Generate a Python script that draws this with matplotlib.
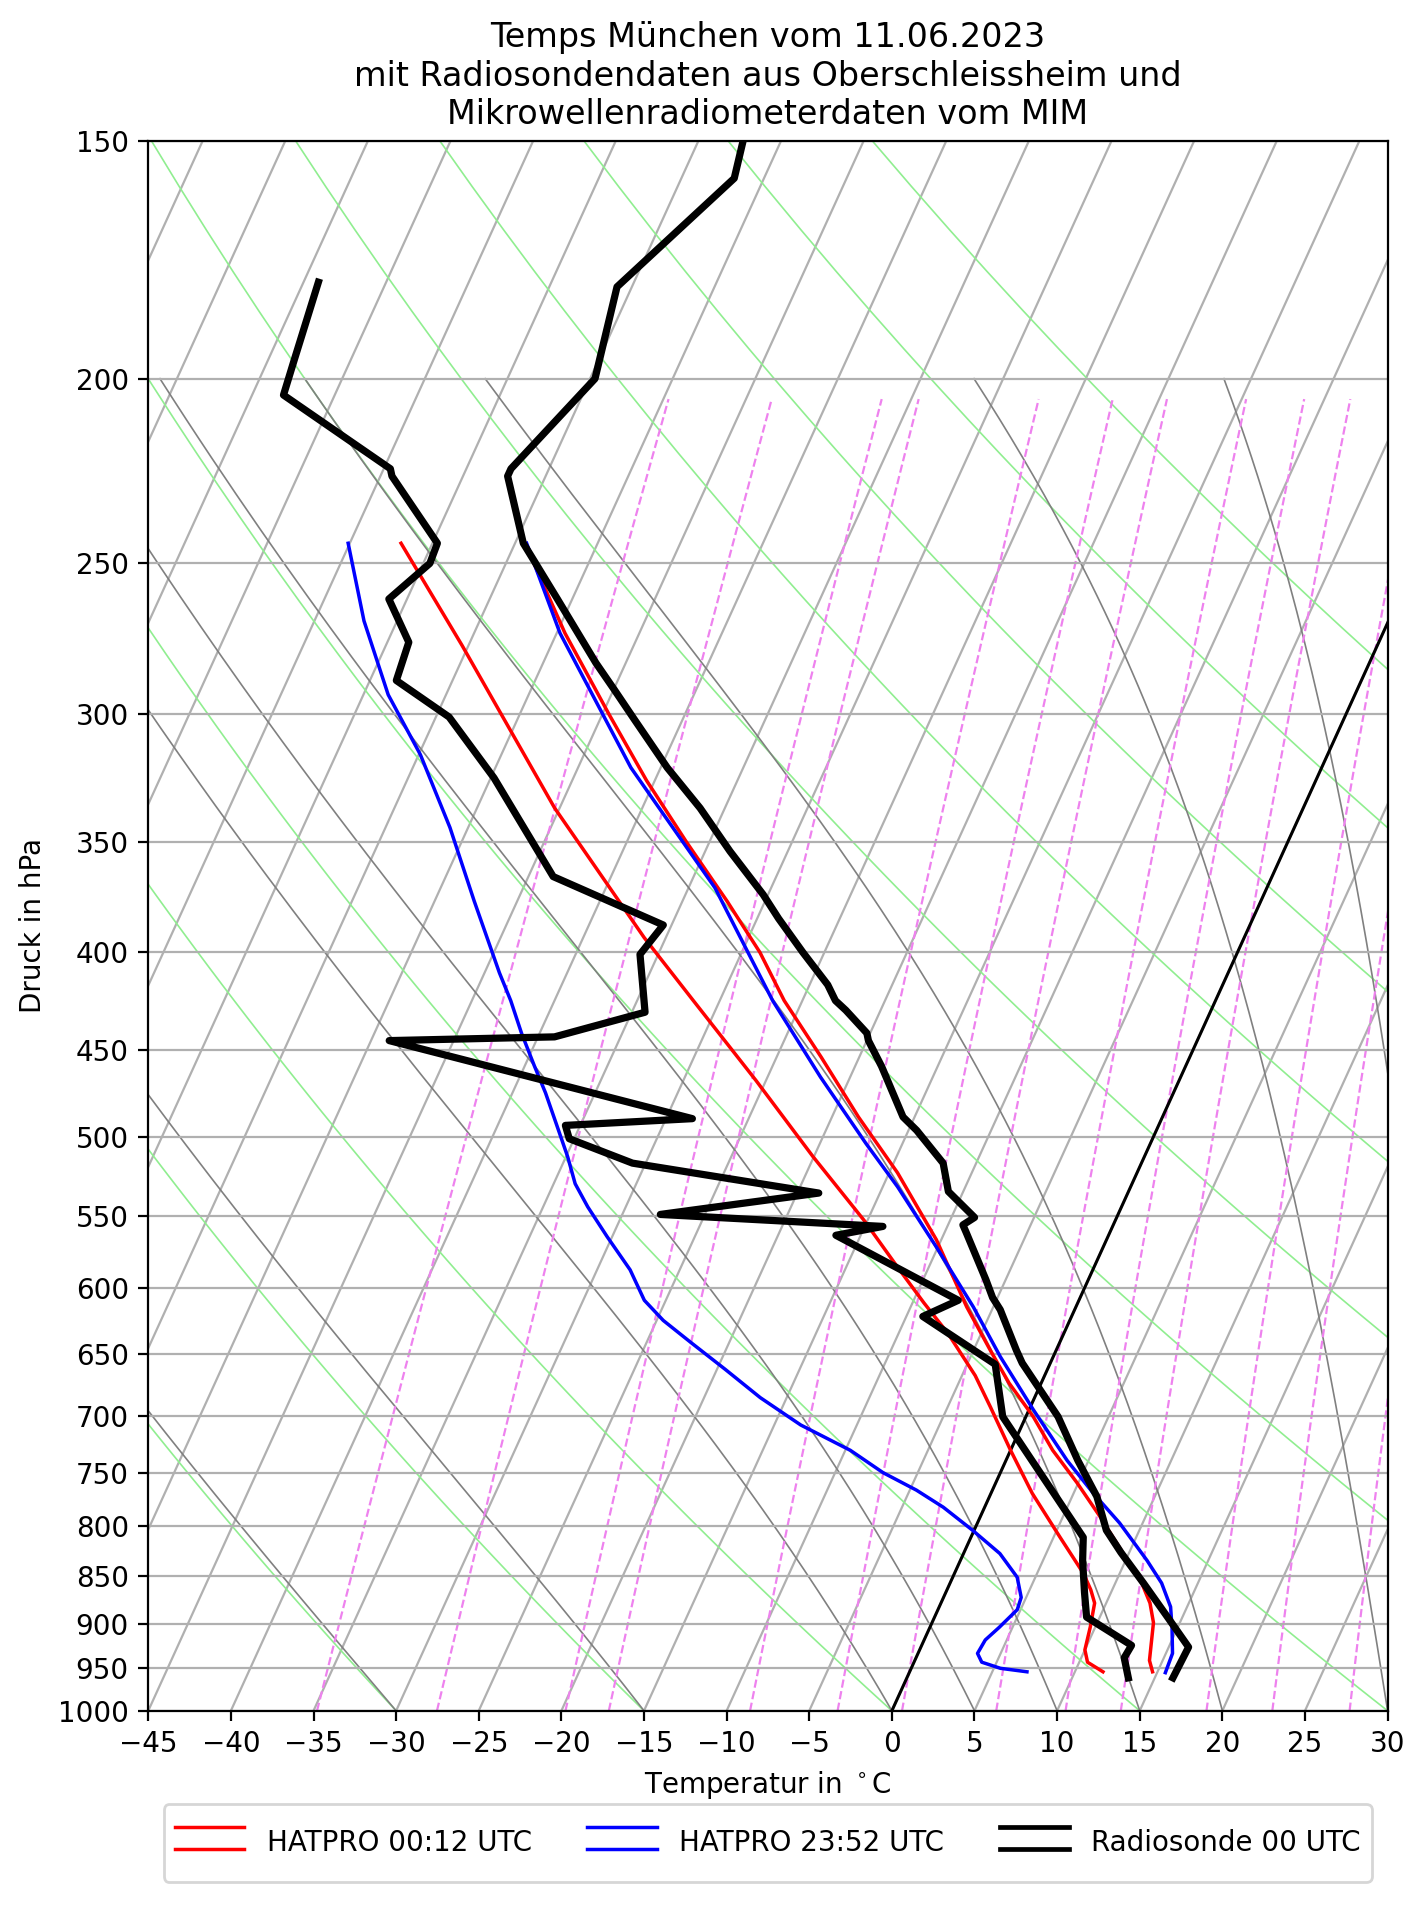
import numpy as np
import matplotlib
matplotlib.use('Agg')
import matplotlib.pyplot as plt
import matplotlib.transforms as transforms
from matplotlib.lines import Line2D
from matplotlib.ticker import FixedLocator, NullLocator, ScalarFormatter

# Radiosonde 00 UTC (Oberschleissheim)
sonde_p_T = [961, 926, 893, 857, 826, 804, 772, 739, 701, 657, 647, 616, 607, 594,
             561, 556, 551, 548, 534, 516, 496, 488, 459, 445, 441, 429, 424, 416,
             400, 384, 373, 354, 336, 320, 302, 291, 282, 261, 250, 244, 225, 223,
             200, 179, 157, 150]
sonde_T = [16.1, 16.2, 14.1, 11.7, 9.5, 8.0, 6.5, 4.35, 1.95, -1.7, -2.4, -4.5, -5.3, -6.2,
           -8.7, -9.1, -8.6, -9.0, -10.9, -12.0, -14.5, -15.7, -18.4, -19.9, -20.2, -22.1, -23.0, -23.9,
           -26.3, -28.7, -30.3, -33.5, -36.5, -39.6, -42.9, -45.0, -46.8, -50.9, -53.2, -54.5, -57.3, -57.3,
           -54.7, -55.9, -51.8, -52.3]
sonde_p_Td = [961, 938, 924, 893, 867, 834, 811, 701, 658, 621, 609, 563, 557, 549,
              535, 516, 501, 493, 489, 445, 443, 430, 401, 387, 365, 324, 301, 288,
              275, 261, 250, 244, 225, 223, 204, 196, 178]
sonde_Td = [13.4, 12.6, 12.7, 9.2, 8.4, 7.4, 6.8, -1.4, -3.3, -9.0, -7.3, -16.5, -13.9, -27.7,
            -18.7, -30.8, -35.3, -35.9, -28.4, -48.9, -39.0, -34.2, -36.1, -35.5, -43.5, -49.8, -54.2, -58.4,
            -58.7, -61.1, -59.6, -59.7, -64.3, -64.6, -73.1, -73.4, -74.1]

# HATPRO 00:12 UTC
hat1_p_T = [954, 941, 899, 878, 857, 791, 759, 730, 701, 673, 648, 614, 566, 522,
            488, 454, 424, 400, 376, 350, 325, 300, 272, 244]
hat1_T = [14.7, 14.2, 13.4, 12.65, 11.6, 7.25, 4.9, 2.55, 0.45, -1.95, -3.9, -6.6, -10.3, -14.5,
          -18.4, -22.3, -26.1, -28.9, -32.3, -36.4, -40.5, -44.6, -49.5, -54.4]
hat1_p_Td = [954, 943, 929, 904, 878, 864, 847, 811, 769, 730, 693, 667, 634, 611,
             585, 553, 512, 467, 424, 393, 336, 276, 244]
hat1_Td = [11.7, 10.5, 10.0, 9.7, 9.3, 8.7, 7.8, 5.4, 2.5, 0.0, -2.4, -4.2, -7.0, -9.3,
           -11.9, -15.2, -20.05, -25.6, -31.6, -36.3, -45.3, -55.4, -61.9]

# HATPRO 23:52 UTC
hat2_p_T = [955, 933, 904, 882, 857, 834, 797, 769, 739, 695, 652, 614, 571, 531,
            504, 465, 424, 370, 320, 272, 244]
hat2_T = [15.5, 15.4, 14.65, 14.0, 12.8, 11.3, 8.6, 6.2, 3.7, 0.25, -3.2, -6.2, -10.1, -14.1,
          -17.2, -21.8, -26.8, -33.4, -41.8, -49.8, -54.3]
hat2_p_Td = [954, 950, 943, 933, 918, 904, 885, 872, 851, 827, 804, 782, 766, 750,
             730, 708, 685, 662, 641, 624, 609, 587, 564, 544, 529, 512, 492, 474,
             459, 441, 424, 410, 376, 344, 315, 293, 268, 244]
hat2_Td = [7.1, 5.4, 4.1, 3.6, 3.7, 4.2, 4.8, 4.7, 3.9, 2.2, -0.1, -2.5, -4.6, -7.1,
           -9.7, -13.4, -16.6, -19.5, -22.3, -24.6, -26.3, -28.0, -30.3, -32.3, -33.7, -34.9, -36.5, -38.0,
           -39.4, -41.1, -42.65, -44.1, -47.6, -51.1, -54.9, -58.5, -62.0, -65.1]

# background lines
dry_t0 = np.arange(-30, 121, 15)
moist_t0 = [-30, -15, 0, 5, 10, 15, 20, 30, 35]
mixing_w = [0.2, 0.4, 0.8, 1, 2, 3, 4, 6, 8, 10, 14, 18, 24]  # g/kg
p_levels = np.arange(150, 1001, 50)


def sat_mr(p, t):
    es = 6.112 * np.exp(17.67 * (t - 273.15) / (t - 29.65))
    return 0.622 * es / (p - es)


def moist_dtdp(p, t):
    rs = sat_mr(p, t)
    frac = (287.04 * t + 2.501e6 * rs) / (1005.7 + 2.501e6 ** 2 * rs * 0.622 / (287.04 * t ** 2))
    return frac / p


fig = plt.figure(figsize=(7.135, 9.535), dpi=200)
ax = fig.add_axes([0.1039, 0.1029, 0.8685, 0.8234])
ax.set_yscale('log')
ax.set_xlim(-45, 30)
ax.set_ylim(1000, 150)
ax.set_autoscale_on(False)
ax.yaxis.set_major_locator(FixedLocator(p_levels))
ax.yaxis.set_major_formatter(ScalarFormatter())
ax.yaxis.set_minor_locator(NullLocator())
ax.set_xticks(np.arange(-45, 31, 5))
ax.yaxis.grid(True)

# skew-x transform, isotherms lean 30 deg in axes space
skew = ax.transScale + ax.transLimits + transforms.Affine2D().skew_deg(30, 0) + ax.transAxes

# isotherms
for t in range(-100, 31, 5):
    ax.plot([t, t], [1000, 150], transform=skew, color='#b0b0b0', lw=0.8, zorder=1)

# dry adiabats
p = np.linspace(1000, 150, 100)
for th in dry_t0:
    t = (th + 273.15) * (p / 1000.0) ** 0.2857 - 273.15
    ax.plot(t, p, transform=skew, color='lightgreen', lw=0.6, zorder=1)

# moist adiabats, integrated from 1000 hPa
pm = np.arange(1000, 199, -5.0)
for t0 in moist_t0:
    tk = [t0 + 273.15]
    for i in range(len(pm) - 1):
        h = pm[i + 1] - pm[i]
        tt = tk[-1]
        k1 = moist_dtdp(pm[i], tt)
        k2 = moist_dtdp(pm[i] + h / 2, tt + h / 2 * k1)
        k3 = moist_dtdp(pm[i] + h / 2, tt + h / 2 * k2)
        k4 = moist_dtdp(pm[i] + h, tt + h * k3)
        tk.append(tt + h / 6 * (k1 + 2 * k2 + 2 * k3 + k4))
    ax.plot(np.array(tk) - 273.15, pm, transform=skew, color='gray', lw=0.6, zorder=1)

# mixing ratio lines
pw = np.linspace(1000, 205, 50)
for w in mixing_w:
    e = pw * w / 1000.0 / (0.622 + w / 1000.0)
    a = np.log(e / 6.112)
    td = 243.5 * a / (17.67 - a)
    ax.plot(td, pw, transform=skew, color='violet', lw=0.8, ls='--', zorder=1)

ax.plot([0, 0], [1000, 150], transform=skew, color='k', lw=1.1, zorder=2)

l_hat1, = ax.plot(hat1_T, hat1_p_T, transform=skew, color='r', lw=1.25, zorder=3)
ax.plot(hat1_Td, hat1_p_Td, transform=skew, color='r', lw=1.25, zorder=3)
l_hat2, = ax.plot(hat2_T, hat2_p_T, transform=skew, color='b', lw=1.25, zorder=3)
ax.plot(hat2_Td, hat2_p_Td, transform=skew, color='b', lw=1.25, zorder=3)
l_sonde, = ax.plot(sonde_T, sonde_p_T, transform=skew, color='k', lw=2.6, zorder=4)
ax.plot(sonde_Td, sonde_p_Td, transform=skew, color='k', lw=2.6, zorder=4)

ax.set_xlabel(r'Temperatur in $^\circ$C')
ax.set_ylabel('Druck in hPa')
ax.set_title('Temps München vom 11.06.2023\nmit Radiosondendaten aus Oberschleissheim und\n'
             'Mikrowellenradiometerdaten vom MIM')


class DoubleLine:
    # legend handle drawn as two stacked lines (temperature + dewpoint)
    def legend_artist(self, legend, orig_handle, fontsize, handlebox):
        xd, yd = handlebox.xdescent, handlebox.ydescent
        w, h = handlebox.width, handlebox.height
        yc = (h - yd) / 2 - 0.18 * fontsize
        for dy in (-0.4 * fontsize, 0.4 * fontsize):
            ln = Line2D([-xd, -xd + w], [yc + dy, yc + dy], color=orig_handle.get_color(),
                        lw=min(orig_handle.get_linewidth(), 1.7))
            handlebox.add_artist(ln)
        return ln


ax.legend([l_hat1, l_hat2, l_sonde], ['HATPRO 00:12 UTC', 'HATPRO 23:52 UTC', 'Radiosonde 00 UTC'],
          handler_map={Line2D: DoubleLine()}, loc='upper center', bbox_to_anchor=(0.5, -0.0505),
          ncol=3, handleheight=2.7, handlelength=2.5)

fig.savefig('out.png', dpi=200)
